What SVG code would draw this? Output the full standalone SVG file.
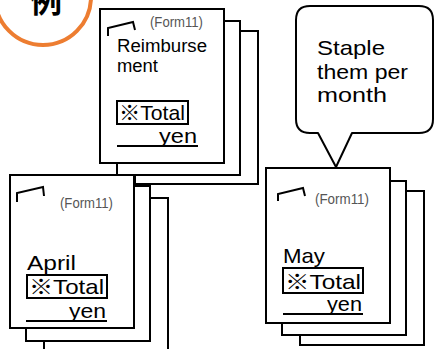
<svg xmlns="http://www.w3.org/2000/svg" width="435" height="349" viewBox="0 0 435 349">
<style>
.page{fill:#fff;stroke:#000;stroke-width:2}
.mark{fill:none;stroke:#000;stroke-width:2;stroke-linejoin:miter}
.box{fill:none;stroke:#000;stroke-width:2}
.ul{stroke:#000;stroke-width:2}
.form{font-family:"Liberation Sans","Noto Sans CJK JP",sans-serif;font-size:15px;fill:#555}
.lbl{font-family:"Liberation Sans","Noto Sans CJK JP",sans-serif;font-size:18px;fill:#000}
.big{font-family:"Liberation Sans","Noto Sans CJK JP",sans-serif;font-size:21px;fill:#000}
.note{font-family:"Liberation Sans","Noto Sans CJK JP",sans-serif;font-size:21px;fill:#000}
</style>
<g id="badge">
<circle cx="43" cy="-3" r="48" fill="#fff" stroke="#ED7D31" stroke-width="4"/>
<text x="46" y="12" text-anchor="middle" font-family="Noto Sans CJK JP,sans-serif" font-size="32" font-weight="bold" fill="#000">例</text>
</g>
<g id="stack-top">
<rect class="page" x="135" y="31" width="123" height="153"/>
<rect class="page" x="117" y="21" width="123" height="154"/>
<rect class="page" x="100" y="9" width="124" height="154"/>
<polyline class="mark" points="108,36 108,28 133,22 135,30"/>
<text class="form" x="150" y="27" textLength="53" lengthAdjust="spacingAndGlyphs">(Form11)</text>
<text class="lbl" x="117" y="52" textLength="90" lengthAdjust="spacingAndGlyphs">Reimburse</text>
<text class="lbl" x="117" y="72" textLength="41" lengthAdjust="spacingAndGlyphs">ment</text>
<rect class="box" x="117" y="101" width="71" height="23"/>
<text class="big" x="119" y="120" font-size="20" textLength="66" lengthAdjust="spacingAndGlyphs">※Total</text>
<text class="big" x="159" y="143" textLength="38" lengthAdjust="spacingAndGlyphs">yen</text>
<line class="ul" x1="117" y1="146" x2="198" y2="146"/>
</g>
<g id="stack-april">
<rect class="page" x="44" y="198" width="124" height="170"/>
<rect class="page" x="26" y="186" width="124" height="155"/>
<rect class="page" x="10" y="175" width="124" height="153"/>
<polyline class="mark" points="17,202 17,193 43,187 44,196"/>
<text class="form" x="60" y="208" textLength="53" lengthAdjust="spacingAndGlyphs">(Form11)</text>
<text class="big" x="27" y="270" font-size="22" textLength="49" lengthAdjust="spacingAndGlyphs">April</text>
<rect class="box" x="27" y="275" width="80" height="23"/>
<text class="big" x="29" y="294" textLength="75" lengthAdjust="spacingAndGlyphs">※Total</text>
<text class="big" x="69" y="318" textLength="37" lengthAdjust="spacingAndGlyphs">yen</text>
<line class="ul" x1="26" y1="321" x2="107" y2="321"/>
</g>
<g id="stack-may">
<rect class="page" x="300" y="191" width="124" height="154"/>
<rect class="page" x="282" y="181" width="124" height="154"/>
<rect class="page" x="266" y="168" width="124" height="155"/>
<polyline class="mark" points="278,201 278,194 303,188 305,196"/>
<text class="form" x="315" y="204" textLength="54" lengthAdjust="spacingAndGlyphs">(Form11)</text>
<text class="big" x="283" y="263" font-size="22" textLength="42" lengthAdjust="spacingAndGlyphs">May</text>
<rect class="box" x="283" y="268" width="80" height="25"/>
<text class="big" x="285" y="289" textLength="76" lengthAdjust="spacingAndGlyphs">※Total</text>
<text class="big" x="327" y="311" textLength="35" lengthAdjust="spacingAndGlyphs">yen</text>
<line class="ul" x1="283" y1="314" x2="363" y2="314"/>
</g>
<g id="callout">
<path d="M310,6 H419 Q433,6 433,20 V119 Q433,133 419,133 H352 L336,167 L318,133 H310 Q296,133 296,119 V20 Q296,6 310,6 Z" fill="#fff" stroke="#000" stroke-width="2" stroke-linejoin="round"/>
<text class="note" x="317" y="55" textLength="68" lengthAdjust="spacingAndGlyphs">Staple</text>
<text class="note" x="317" y="79" textLength="91" lengthAdjust="spacingAndGlyphs">them per</text>
<text class="note" x="317" y="102" textLength="70" lengthAdjust="spacingAndGlyphs">month</text>
</g>
<g id="connectors"/>
</svg>
